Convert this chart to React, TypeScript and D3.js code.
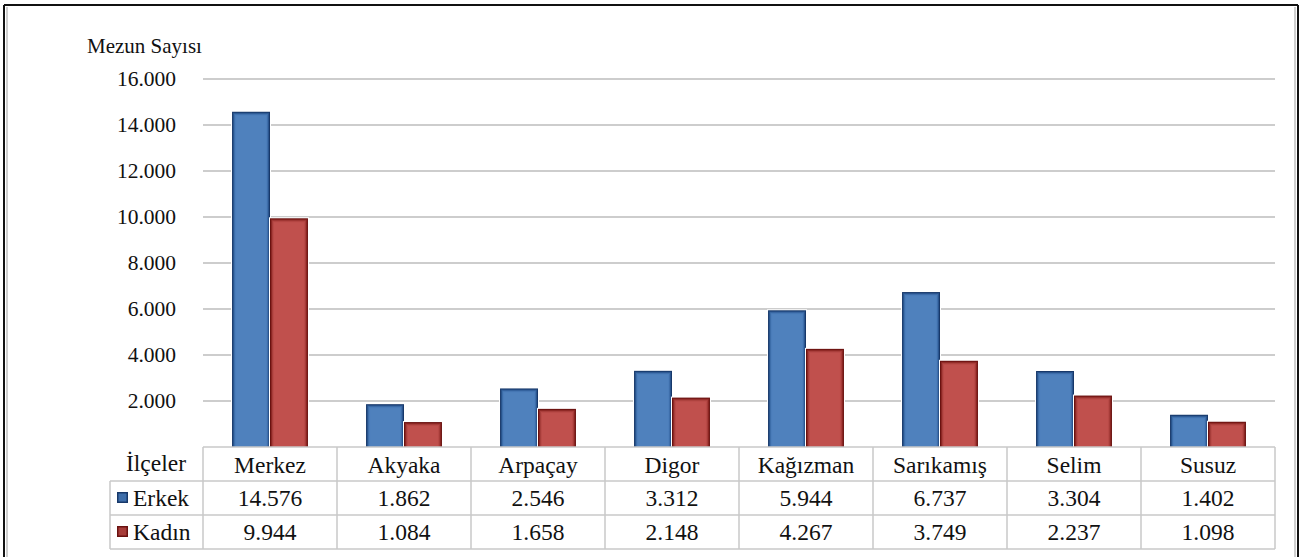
import React from "react";
import * as d3 from "d3";

const districts = ["Merkez", "Akyaka", "Arpaçay", "Digor", "Kağızman", "Sarıkamış", "Selim", "Susuz"];
const erkek = [14576, 1862, 2546, 3312, 5944, 6737, 3304, 1402];
const kadin = [9944, 1084, 1658, 2148, 4267, 3749, 2237, 1098];
const erkekLabels = ["14.576", "1.862", "2.546", "3.312", "5.944", "6.737", "3.304", "1.402"];
const kadinLabels = ["9.944", "1.084", "1.658", "2.148", "4.267", "3.749", "2.237", "1.098"];
const yTicks = [2000, 4000, 6000, 8000, 10000, 12000, 14000, 16000];
const seriesNames = ["Erkek", "Kadın"];

const W = 1307;
const H = 557;
const left = 203;
const right = 1275;
const top = 79;
const base = 447;
const rowEdges = [447, 481, 515, 549];
const FF = "Liberation Serif";

const blueShades = ["#17386a", "#2a558f", "#3e6eaa", "#4b7dba", "#4f81bd"];
const redShades = ["#6a1210", "#8c2724", "#a73d3a", "#b84a47", "#c0504d"];

function Bar({ x, y, w, h, shades }: { x: number; y: number; w: number; h: number; shades: string[] }) {
  return (
    <g>
      <rect x={x - 1} y={y - 1} width={w + 2} height={h + 1} fill="#fff" />
      {shades.map((c, k) => {
        const ww = w - 2 * k;
        const hh = h - 2 * k;
        if (ww <= 0 || hh <= 0) return null;
        return <rect key={k} x={x + k} y={y + k} width={ww} height={hh + k} fill={c} />;
      })}
    </g>
  );
}

export default function App() {
  const x = d3.scaleBand<string>().domain(districts).range([left, right]).paddingInner(0).paddingOuter(0);
  const bw = x.bandwidth();
  const x1 = d3.scaleBand<string>().domain(seriesNames).range([0, bw]).paddingOuter(0.765).paddingInner(0);
  const y = d3.scaleLinear().domain([0, 16000]).range([base, top]);
  const fmt = (v: number) => d3.format(",")(v).replace(/,/g, ".");
  const series = [
    { name: "Erkek", values: erkek, labels: erkekLabels, shades: blueShades },
    { name: "Kadın", values: kadin, labels: kadinLabels, shades: redShades },
  ];
  const T = (props: any) => <text fontFamily={FF} fill="#111" style={{ fontFamily: FF }} {...props} />;
  return (
    <svg width={W} height={H} style={{ position: "absolute", left: 0, top: 0, background: "#fff" }}>
      <rect x={0} y={0} width={W} height={H} fill="#fff" />
      <line x1={4} y1={5} x2={4} y2={H} stroke="#111" strokeWidth={2} />
      <line x1={4} y1={5} x2={1298} y2={5} stroke="#111" strokeWidth={2} />
      <line x1={1298} y1={5} x2={1298} y2={H} stroke="#111" strokeWidth={2} />
      <line x1={7} y1={7} x2={7} y2={H} stroke="#cfcfcf" strokeWidth={2} />
      <line x1={1295} y1={7} x2={1295} y2={H} stroke="#cfcfcf" strokeWidth={2} />

      <T x={87} y={53} fontSize={21}>Mezun Sayısı</T>

      {yTicks.map((t) => (
        <g key={t}>
          <line x1={left} x2={right} y1={y(t)} y2={y(t)} stroke="#bdbdbd" strokeWidth={1.5} />
          <T x={176} y={y(t) + 7} textAnchor="end" fontSize={21.5}>{fmt(t)}</T>
        </g>
      ))}

      {districts.map((d, i) => (
        <g key={d}>
          {series.map((s) => {
            const v = s.values[i];
            const bx = (x(d) as number) + (x1(s.name) as number);
            return <Bar key={s.name} x={bx} y={y(v)} w={x1.bandwidth()} h={base - y(v)} shades={s.shades} />;
          })}
        </g>
      ))}

      <g stroke="#c8c8c8" strokeWidth={1.5} fill="none">
        <line x1={left} x2={right} y1={rowEdges[0]} y2={rowEdges[0]} />
        <line x1={110} x2={right} y1={rowEdges[1]} y2={rowEdges[1]} />
        <line x1={110} x2={right} y1={rowEdges[2]} y2={rowEdges[2]} />
        <line x1={110} x2={right} y1={rowEdges[3]} y2={rowEdges[3]} />
        <line x1={110} x2={110} y1={rowEdges[1]} y2={rowEdges[3]} />
        {districts.map((d) => (
          <line key={d} x1={x(d) as number} x2={x(d) as number} y1={rowEdges[0]} y2={rowEdges[3]} />
        ))}
        <line x1={right} x2={right} y1={rowEdges[0]} y2={rowEdges[3]} />
      </g>
      <T x={156} y={471} textAnchor="middle" fontSize={23.5}>İlçeler</T>
      {districts.map((d) => (
        <T key={d} x={(x(d) as number) + bw / 2} y={473} textAnchor="middle" fontSize={23.5}>{d}</T>
      ))}
      {series.map((s, si) => {
        const yb = rowEdges[si + 1] + 25;
        return (
          <g key={s.name}>
            <rect x={117} y={yb - 14} width={11} height={11} fill={s.shades[0]} />
            <rect x={118.5} y={yb - 12.5} width={8} height={8} fill={s.shades[2]} />
            <T x={133} y={yb} fontSize={23.5}>{s.name}</T>
            {districts.map((d, i) => (
              <T key={d} x={(x(d) as number) + bw / 2} y={yb} textAnchor="middle" fontSize={23.5}>{s.labels[i]}</T>
            ))}
          </g>
        );
      })}
    </svg>
  );
}
